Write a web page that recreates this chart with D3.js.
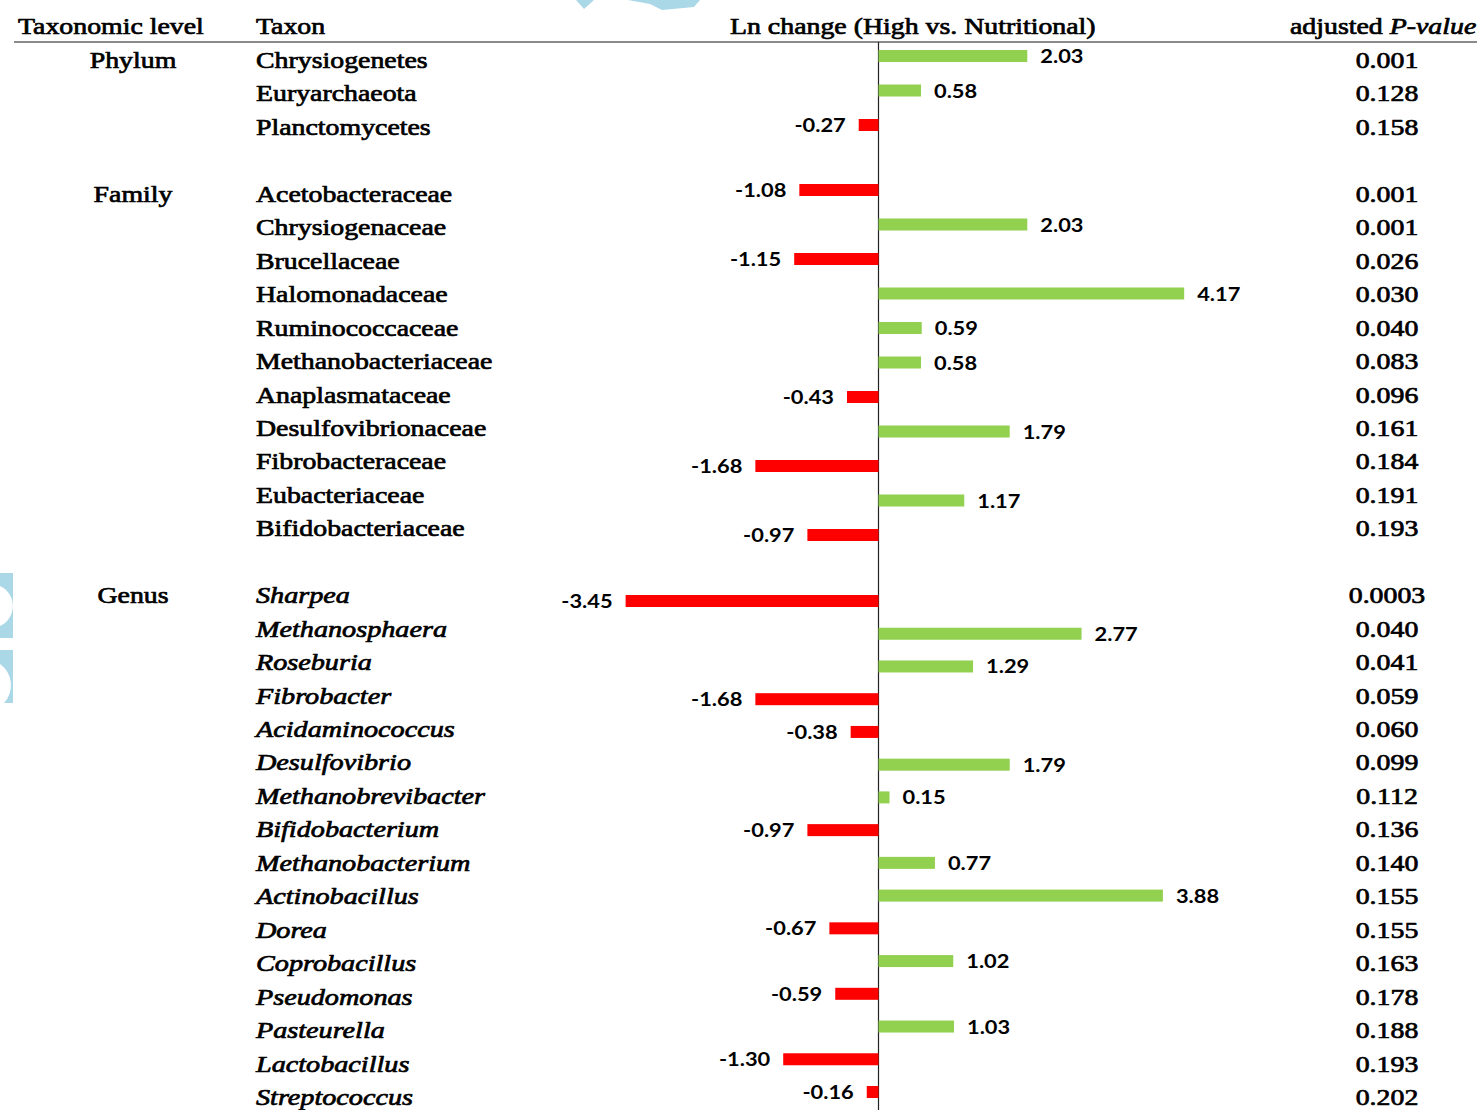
<!DOCTYPE html>
<html>
<head>
<meta charset="utf-8">
<script src="https://cdn.jsdelivr.net/npm/d3@7/dist/d3.min.js"></script>
<style>
  html, body { margin: 0; padding: 0; background: #fff; }
  svg { display: block; }
</style>
</head>
<body>
<div id="chart"></div>
<script>
// ---- data ----
const headers = ["Taxonomic level", "Taxon", "Ln change (High vs. Nutritional)", "adjusted"];
const levels = ["Phylum", "Family", "Genus"];

const phylumTaxa = ["Chrysiogenetes", "Euryarchaeota", "Planctomycetes"];
const phylumLn = [2.03, 0.58, -0.27];
const phylumP = ["0.001", "0.128", "0.158"];

const familyTaxa = ["Acetobacteraceae", "Chrysiogenaceae", "Brucellaceae", "Halomonadaceae",
  "Ruminococcaceae", "Methanobacteriaceae", "Anaplasmataceae", "Desulfovibrionaceae",
  "Fibrobacteraceae", "Eubacteriaceae", "Bifidobacteriaceae"];
const familyLn = [-1.08, 2.03, -1.15, 4.17, 0.59, 0.58, -0.43, 1.79, -1.68, 1.17, -0.97];
const familyP = ["0.001", "0.001", "0.026", "0.030", "0.040", "0.083", "0.096", "0.161",
  "0.184", "0.191", "0.193"];

const genusTaxa = ["Sharpea", "Methanosphaera", "Roseburia", "Fibrobacter", "Acidaminococcus",
  "Desulfovibrio", "Methanobrevibacter", "Bifidobacterium", "Methanobacterium", "Actinobacillus",
  "Dorea", "Coprobacillus", "Pseudomonas", "Pasteurella", "Lactobacillus", "Streptococcus"];
const genusLn = [-3.45, 2.77, 1.29, -1.68, -0.38, 1.79, 0.15, -0.97, 0.77, 3.88, -0.67, 1.02,
  -0.59, 1.03, -1.30, -0.16];
const genusP = ["0.0003", "0.040", "0.041", "0.059", "0.060", "0.099", "0.112", "0.136", "0.140",
  "0.155", "0.155", "0.163", "0.178", "0.188", "0.193", "0.202"];

// ---- layout ----
const W = 1477, H = 1110;
const serif = "'Liberation Serif', 'Times New Roman', serif";
const sans = "Lato, 'Open Sans', sans-serif";
const stretch = 1.185;         // table text is set wide
const green = "#92D050", red = "#FF0000";

const svg = d3.select("#chart").append("svg")
  .attr("width", W).attr("height", H)
  .attr("viewBox", `0 0 ${W} ${H}`);

// table rows (one shared grid, blank rows between sections)
const rowY = d3.scaleLinear().domain([0, 31]).range([60, 60 + 31 * 33.45]);
// value axis
const x = d3.scaleLinear().domain([-4, 5]).range([878.5 - 4 * 73.3, 878.5 + 5 * 73.3]);

const sections = [
  { level: levels[0], taxa: phylumTaxa, ln: phylumLn, p: phylumP, row0: 0, italic: false, bars: [56, 125] },
  { level: levels[1], taxa: familyTaxa, ln: familyLn, p: familyP, row0: 4, italic: false, bars: [190, 535] },
  { level: levels[2], taxa: genusTaxa, ln: genusLn, p: genusP, row0: 16, italic: true, bars: [601, 1092] }
];

// faint decorative marks along the edges
const deco = svg.append("g").attr("fill", "#aad8e6");
deco.append("path").attr("d", "M576,0 L594,0 L584,9 Z");
deco.append("path").attr("d", "M628,0 L668,0 L700,0 L694,7 L662,10 L650,4 Z");
deco.append("path").attr("d", "M0,573 L13,573 L13,638 L0,638 L0,626 A 22 22 0 0 0 0,586 Z");
deco.append("path").attr("d", "M0,650 L13,650 L13,703 L4,703 A 26 26 0 0 0 0,664 Z");

function stext(g, str, tx, ty, opts = {}) {
  return g.append("text")
    .attr("transform", `translate(${tx},${ty}) scale(${opts.sx || stretch},1)`)
    .attr("text-anchor", opts.anchor || "start")
    .attr("font-family", opts.family || serif)
    .attr("font-size", opts.size || 23.5)
    .attr("font-style", opts.italic ? "italic" : "normal")
    .attr("font-weight", opts.weight || "normal")
    .attr("fill", "#000")
    .attr("stroke", "#000")
    .attr("stroke-width", opts.stroke == null ? 0.7 : opts.stroke)
    .attr("stroke-linejoin", "round")
    .text(str);
}

// header
const head = svg.append("g");
stext(head, headers[0], 18, 34);
stext(head, headers[1], 256, 34);
stext(head, headers[2], 730, 34);
const pHead = stext(head, headers[3] + " ", 1290, 34);
pHead.append("tspan").attr("font-style", "italic").text("P-value");

svg.append("line")
  .attr("x1", 14).attr("x2", W).attr("y1", 42).attr("y2", 42)
  .attr("stroke", "#8a8a8a").attr("stroke-width", 2);

// axis line at zero
svg.append("line")
  .attr("x1", x(0)).attr("x2", x(0)).attr("y1", 42).attr("y2", H)
  .attr("stroke", "#222").attr("stroke-width", 1.2);

sections.forEach(sec => {
  const g = svg.append("g");
  const barY = d3.scaleLinear().domain([0, sec.taxa.length - 1]).range(sec.bars);
  const rows = sec.taxa.map((t, i) => ({ t, v: sec.ln[i], p: sec.p[i], i }));

  // level label
  stext(g, sec.level, 133, rowY(sec.row0) + 8, { anchor: "middle" });

  rows.forEach(d => {
    const ty = rowY(sec.row0 + d.i) + 8;
    stext(g, d.t, 256, ty, { italic: sec.italic, sx: sec.italic ? 1.2 : stretch });
    stext(g, d.p, 1387, ty, { anchor: "middle" });
  });

  // bars
  g.selectAll("rect").data(rows).join("rect")
    .attr("x", d => Math.min(x(0), x(d.v)))
    .attr("width", d => Math.abs(x(d.v) - x(0)))
    .attr("y", d => barY(d.i) - 6)
    .attr("height", 12)
    .attr("fill", d => d.v >= 0 ? green : red);

  // value labels
  rows.forEach(d => {
    const pos = d.v >= 0;
    stext(g, d.v.toFixed(2), pos ? x(d.v) + 13 : x(d.v) - 13, barY(d.i) + 7, {
      anchor: pos ? "start" : "end", family: sans, size: 19.5, weight: 700, sx: 1.12, stroke: 0
    });
  });
});
</script>
</body>
</html>
